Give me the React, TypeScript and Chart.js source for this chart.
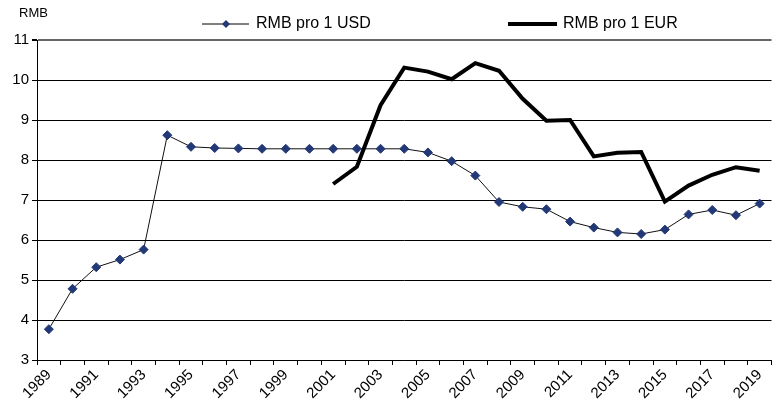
import React, { useEffect, useRef } from "react";
import { Chart, registerables } from "chart.js";

Chart.register(...registerables);

const years = [
  "1989", "1990", "1991", "1992", "1993", "1994", "1995", "1996", "1997", "1998",
  "1999", "2000", "2001", "2002", "2003", "2004", "2005", "2006", "2007", "2008",
  "2009", "2010", "2011", "2012", "2013", "2014", "2015", "2016", "2017", "2018", "2019",
];

const rmbPerUsd = [
  3.77, 4.78, 5.32, 5.51, 5.76, 8.62, 8.33, 8.30, 8.29, 8.28,
  8.28, 8.28, 8.28, 8.28, 8.28, 8.28, 8.19, 7.97, 7.61, 6.95,
  6.83, 6.77, 6.46, 6.31, 6.19, 6.15, 6.26, 6.64, 6.75, 6.62, 6.91,
];

const rmbPerEur = [
  null, null, null, null, null, null, null, null, null, null,
  null, null, 7.40, 7.83, 9.37, 10.31, 10.21, 10.02, 10.42, 10.23,
  9.53, 8.98, 9.00, 8.09, 8.18, 8.20, 6.96, 7.36, 7.63, 7.82, 7.73,
];

const yTicks = [3, 4, 5, 6, 7, 8, 9, 10, 11];

const FONT = '"Liberation Sans", Arial, sans-serif';

const overlayPlugin = {
  id: "overlay",
  afterDraw(chart: any) {
    const ctx = chart.ctx;
    ctx.save();
    // Axis unit label
    ctx.fillStyle = "#000";
    ctx.font = `13px ${FONT}`;
    ctx.textBaseline = "middle";
    ctx.textAlign = "left";
    ctx.fillText("RMB", 19, 13);

    // Legend item 1
    const ly = 24;
    ctx.strokeStyle = "#000";
    ctx.lineWidth = 1;
    ctx.beginPath();
    ctx.moveTo(202, ly);
    ctx.lineTo(249, ly);
    ctx.stroke();
    ctx.fillStyle = "#233876";
    ctx.beginPath();
    const r = 4;
    ctx.moveTo(226, ly - r);
    ctx.lineTo(226 + r, ly);
    ctx.lineTo(226, ly + r);
    ctx.lineTo(226 - r, ly);
    ctx.closePath();
    ctx.fill();
    ctx.fillStyle = "#000";
    ctx.font = `16px ${FONT}`;
    ctx.fillText("RMB pro 1 USD", 256, ly);

    // Legend item 2
    ctx.lineWidth = 4;
    ctx.beginPath();
    ctx.moveTo(508, ly);
    ctx.lineTo(557, ly);
    ctx.stroke();
    ctx.fillText("RMB pro 1 EUR", 563, ly);
    ctx.restore();
  },
};

export default function App() {
  const canvasRef = useRef<HTMLCanvasElement | null>(null);

  useEffect(() => {
    if (!canvasRef.current) return;
    const chart = new Chart(canvasRef.current, {
      type: "line",
      data: {
        labels: years,
        datasets: [
          {
            label: "RMB pro 1 USD",
            data: rmbPerUsd,
            borderColor: "#111",
            borderWidth: 1,
            pointStyle: "rectRot",
            pointRadius: 4.5,
            pointBackgroundColor: "#233876",
            pointBorderColor: "#233876",
            pointBorderWidth: 1,
            tension: 0,
            order: 1,
          },
          {
            label: "RMB pro 1 EUR",
            data: rmbPerEur,
            borderColor: "#000",
            borderWidth: 4,
            pointRadius: 0,
            tension: 0,
            spanGaps: false,
            order: 0,
          },
        ],
      },
      options: {
        animation: false,
        responsive: true,
        maintainAspectRatio: false,
        layout: { padding: { top: 40, right: 3, left: 0, bottom: 0 } },
        plugins: {
          legend: { display: false },
          tooltip: { enabled: false },
        },
        scales: {
          x: {
            type: "category",
            offset: true,
            grid: {
              offset: true,
              drawOnChartArea: false,
              drawTicks: true,
              tickLength: 5,
              color: "#000",
            },
            border: { color: "#000", width: 1 },
            ticks: {
              autoSkip: false,
              maxRotation: 45,
              minRotation: 45,
              padding: 1,
              color: "#000",
              font: { family: FONT, size: 15 },
              callback: (_v: any, i: number) => (i % 2 === 0 ? years[i] : ""),
            },
            afterFit: (s: any) => {
              s.height = 43;
            },
          },
          y: {
            min: yTicks[0],
            max: yTicks[yTicks.length - 1],
            afterBuildTicks: (s: any) => {
              s.ticks = yTicks.map((v) => ({ value: v }));
            },
            grid: {
              color: (c: any) => (c.tick && c.tick.value === 11 ? "#666" : "#000"),
              lineWidth: (c: any) => (c.tick && c.tick.value === 11 ? 2 : 1),
              tickLength: 5,
              tickColor: "#000",
            },
            border: { color: "#000", width: 1 },
            ticks: {
              padding: 3,
              color: "#000",
              font: { family: FONT, size: 15 },
            },
            afterFit: (s: any) => {
              s.width = 37;
            },
          },
        },
      },
      plugins: [overlayPlugin],
    });
    return () => chart.destroy();
  }, []);

  return (
    <div style={{ position: "absolute", left: 0, top: 0, width: 777, height: 403, background: "#fff" }}>
      <canvas ref={canvasRef} />
    </div>
  );
}
